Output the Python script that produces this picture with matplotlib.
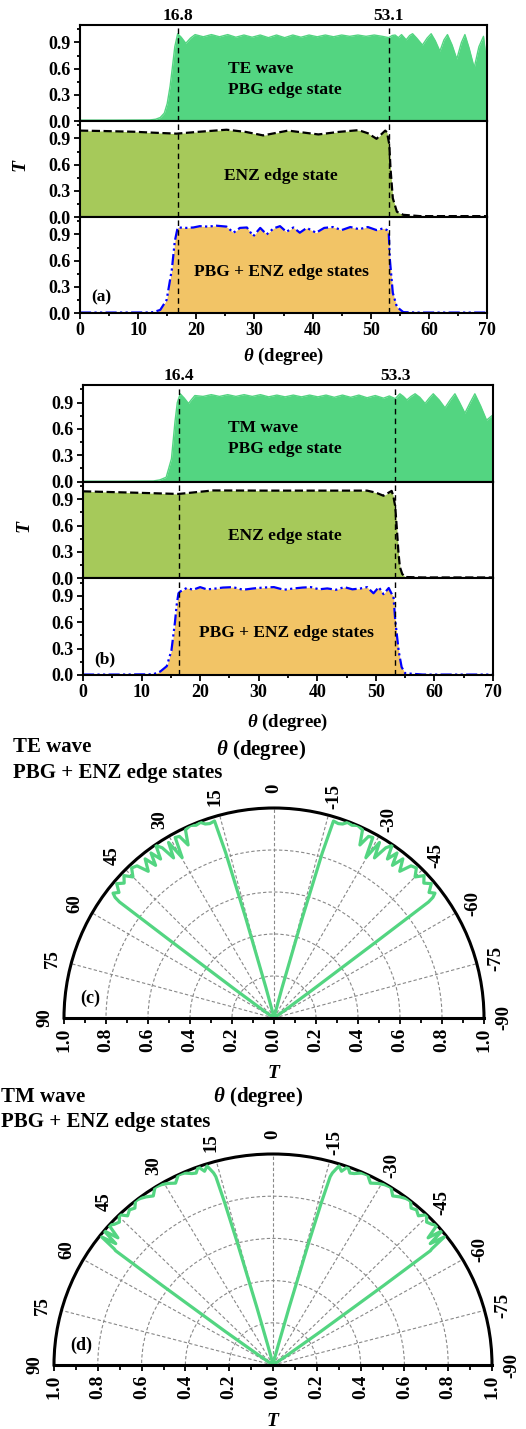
import numpy as np
import matplotlib
matplotlib.use("Agg")
import matplotlib.pyplot as plt
from matplotlib.ticker import MultipleLocator, FixedLocator, FuncFormatter
import matplotlib.transforms as mtransforms

# ---------------- data: transmittance vs incidence angle (degree) ----------------
# TE wave
te_pbg_x = [0, 6, 12, 13, 13.8, 14.5, 15.0, 15.5, 15.9, 16.3, 16.8, 17.4, 18.2, 19.0, 19.8,
            21.2, 22.6, 24.0, 25.4, 26.8, 28.2, 29.6, 31.0, 32.4, 33.8, 35.2, 36.6, 38.0, 39.4,
            40.8, 42.2, 43.6, 45.0, 46.4, 47.8, 49.2, 50.6, 52.0, 53.1, 53.7, 54.2, 54.75, 55.3,
            56.1, 56.7, 57.2, 57.9, 58.9, 59.7, 60.4, 61.1, 61.9, 62.6, 63.2, 64.0, 64.8, 65.6,
            66.2, 66.9, 67.8, 68.6, 69.4, 70.0]
te_pbg_t = [0.01, 0.01, 0.012, 0.02, 0.04, 0.09, 0.2, 0.4, 0.62, 0.85, 1.0, 0.96, 0.89, 0.95, 0.99,
            0.965, 0.99, 0.965, 0.99, 0.96, 0.985, 0.96, 0.985, 0.955, 0.985, 0.955, 0.985, 0.96, 0.985,
            0.965, 0.985, 0.965, 0.985, 0.97, 0.985, 0.97, 0.985, 0.97, 0.955, 0.98, 0.985, 0.955, 0.99,
            0.93, 0.98, 1.0, 0.95, 0.87, 0.95, 1.0, 0.92, 0.80, 0.93, 0.99, 0.87, 0.71, 0.90,
            0.99, 0.84, 0.61, 0.85, 0.97, 0.63]

te_enz_x = [0, 4, 9.2, 13, 16.6, 20.6, 25.2, 28.5, 31.5, 35.8, 41.0, 44.5, 47.9, 49.5, 51.0,
            52.5, 52.8, 53.2, 53.4, 53.8, 54.5, 55.6, 58.5, 64, 70]
te_enz_t = [0.99, 0.985, 0.977, 0.965, 0.955, 0.977, 1.0, 0.975, 0.935, 0.99, 0.946, 0.975, 0.995,
            0.96, 0.896, 0.99, 0.97, 0.83, 0.56, 0.215, 0.06, 0.025, 0.01, 0.01, 0.01]

te_all_x = [0, 6, 12, 12.6, 13.8, 14.9, 15.8, 16.3, 16.8, 18.3, 19.5, 20.6, 22.0, 23.5, 25.2,
            26.4, 27.5, 28.7, 29.8, 31.0, 32.1, 33.3, 34.4, 35.5, 36.7, 37.8, 39.0, 40.6, 42.0,
            43.5, 45.0, 46.5, 48.0, 49.5, 51.0, 52.2, 52.8, 53.1, 53.3, 53.8, 54.5, 55.6, 58, 64, 70]
te_all_t = [0.005, 0.005, 0.006, 0.01, 0.035, 0.15, 0.5, 0.82, 0.98, 0.975, 0.98, 0.995, 0.99, 1.0, 0.99,
            0.92, 0.975, 0.98, 0.88, 0.975, 0.9, 0.97, 0.995, 0.93, 0.98, 0.92, 0.975, 0.92, 0.975,
            0.985, 0.95, 0.985, 0.96, 0.985, 0.95, 0.97, 0.95, 0.92, 0.61, 0.23, 0.07, 0.01, 0.005,
            0.005, 0.005]

# TM wave
tm_pbg_x = [0, 6, 12, 13.1, 14.2, 15.1, 15.7, 16.1, 16.6, 17.3, 18.0, 18.6, 19.1,
            20.5, 21.9, 23.3, 24.7, 26.1, 27.5, 28.9, 30.3, 31.7, 33.1, 34.5, 35.9, 37.3, 38.7,
            40.1, 41.5, 42.9, 44.3, 45.7, 47.1, 48.5, 49.9, 51.3, 52.3, 53.3, 54.1, 54.7, 55.3,
            56.0, 56.7, 57.5, 58.4, 59.1, 59.8, 60.8, 61.8, 62.7, 63.5, 64.3, 65.2, 66.1, 66.9,
            67.9, 68.9, 70.0]
tm_pbg_t = [0.005, 0.005, 0.008, 0.02, 0.05, 0.26, 0.68, 0.9, 1.0, 0.95, 0.89, 0.94, 0.98,
            0.97, 0.99, 0.97, 0.99, 0.97, 0.99, 0.97, 0.99, 0.965, 0.985, 0.965, 0.985, 0.965, 0.985,
            0.965, 0.985, 0.96, 0.985, 0.96, 0.985, 0.955, 0.98, 0.95, 0.975, 0.945, 1.0, 0.97, 0.93,
            0.97, 1.0, 0.96, 0.89, 0.95, 1.0, 0.93, 0.84, 0.93, 1.0, 0.9, 0.78, 0.9, 1.0,
            0.86, 0.70, 0.76]

tm_enz_x = [0, 8.6, 16.3, 22.2, 31.4, 42.7, 48.5, 50.0, 51.3, 52.7, 53.0, 53.3, 53.6, 53.85,
            54.1, 54.5, 55.0, 58, 70]
tm_enz_t = [0.99, 0.975, 0.96, 1.0, 0.998, 0.998, 0.998, 0.975, 0.94, 0.995, 0.93, 0.82, 0.55,
            0.3, 0.13, 0.05, 0.015, 0.01, 0.01]

tm_all_x = [0, 6, 12, 13.2, 14.3, 15.1, 15.7, 16.0, 16.3, 16.6, 17.7, 18.8, 20.0, 21.1, 22.2,
            23.9, 25.6, 27.3, 29.1, 30.8, 32.6, 34.3, 36.0, 37.5, 38.9, 40.3, 41.7, 43.2, 44.6,
            46.0, 47.4, 48.5, 49.6, 50.5, 51.3, 52.2, 52.8, 53.0, 53.3, 53.9, 54.4, 55.0, 58, 64, 70]
tm_all_t = [0.005, 0.005, 0.008, 0.04, 0.1, 0.28, 0.6, 0.8, 0.93, 0.95, 0.99, 0.97, 1.0, 0.975, 0.98,
            0.995, 1.0, 0.97, 0.985, 0.995, 1.0, 0.97, 0.985, 0.995, 1.0, 0.975, 0.985, 0.97, 1.0,
            0.975, 0.985, 1.0, 0.93, 1.0, 0.92, 0.99, 0.91, 0.9, 0.63, 0.27, 0.09, 0.02, 0.005,
            0.005, 0.005]

# band-edge angles marked with dashed lines
te_edges = [16.8, 53.1]
tm_edges = [16.4, 53.3]

theta_ticks = [90, 75, 60, 45, 30, 15, 0, -15, -30, -45, -60, -75, -90]
t_ticks = [-1.0, -0.8, -0.6, -0.4, -0.2, 0.0, 0.2, 0.4, 0.6, 0.8, 1.0]

# ---------------- style ----------------
plt.rcParams["font.family"] = ["Liberation Serif", "DejaVu Serif"]
plt.rcParams["font.weight"] = "bold"
plt.rcParams["mathtext.fontset"] = "custom"
plt.rcParams["mathtext.rm"] = "Liberation Serif:bold"
plt.rcParams["mathtext.it"] = "Liberation Serif:italic:bold"
plt.rcParams["mathtext.bf"] = "Liberation Serif:bold"

GREEN = "#53D581"
OLIVE = "#A6C95A"
ORANGE = "#F2C466"
BLUE = "#0000FF"

W, H = 526, 1429
fig = plt.figure(figsize=(W / 100, H / 100), dpi=100)


def box(l, t, r, b):
    return [l / W, 1 - b / H, (r - l) / W, (b - t) / H]


def stack(left, right, top, bottom, rows, edges, tag):
    h = (bottom - top) / 3
    axes = []
    for i, (x, t, fc, lc, ls, label) in enumerate(rows):
        ax = fig.add_axes(box(left, top + i * h, right, top + (i + 1) * h))
        ax.fill_between(x, 0, t, color=fc, lw=0)
        if ls == "-":
            ax.plot(x, t, color=lc, lw=1.0)
        else:
            ax.plot(x, t, color=lc, lw=1.6, linestyle=ls)
        for e in edges:
            ax.axvline(e, color="black", lw=1.0, linestyle=(0, (4, 3)))
        ax.set_xlim(0, 70)
        ax.set_ylim(0, 1.1)
        ax.xaxis.set_major_locator(MultipleLocator(10))
        ax.xaxis.set_minor_locator(MultipleLocator(5))
        ax.yaxis.set_major_locator(FixedLocator([0.0, 0.3, 0.6, 0.9]))
        ax.yaxis.set_minor_locator(FixedLocator([0.15, 0.45, 0.75, 1.05]))
        ax.yaxis.set_major_formatter(FuncFormatter(lambda v, p: f"{v:.1f}"))
        ax.tick_params(which="both", direction="out", top=False, right=False,
                       labelsize=13, width=1.3, pad=2.5)
        ax.tick_params(which="major", length=4)
        ax.tick_params(which="minor", length=2.5)
        if i < 2:
            ax.tick_params(labelbottom=False)
        for s in ax.spines.values():
            s.set_linewidth(1.5)
        for (tx, ty, s, ha) in label:
            ax.text(tx, ty, s, ha=ha, va="center", fontsize=12.5, fontweight="bold")
        axes.append(ax)
    trans = mtransforms.blended_transform_factory(axes[0].transData, axes[0].transAxes)
    for e in edges:
        axes[0].text(e, 1.09, f"{e:.1f}", transform=trans, ha="center", va="center",
                     fontsize=12.5, fontweight="bold")
    axes[2].text(2.0, 0.18, tag, ha="left", va="center", fontsize=12.5, fontweight="bold")
    return axes


stack(80, 487, 25, 313,
      [(te_pbg_x, te_pbg_t, GREEN, GREEN, "-",
        [(25.5, 0.60, "TE wave", "left"), (25.5, 0.35, "PBG edge state", "left")]),
       (te_enz_x, te_enz_t, OLIVE, "black", "--",
        [(34.6, 0.47, "ENZ edge state", "center")]),
       (te_all_x, te_all_t, ORANGE, BLUE, (0, (5, 1.5, 1, 1.5, 1, 1.5)),
        [(34.6, 0.47, "PBG + ENZ edge states", "center")])],
      te_edges, "(a)")
fig.text(283.5 / W, 1 - 356 / H, r"$\theta$ (degree)", ha="center", va="center", fontsize=13.5)
fig.text(22 / W, 1 - 166 / H, r"$T$", ha="center", va="center", fontsize=14, rotation=90)

stack(83, 493, 385, 675,
      [(tm_pbg_x, tm_pbg_t, GREEN, GREEN, "-",
        [(24.8, 0.61, "TM wave", "left"), (24.8, 0.37, "PBG edge state", "left")]),
       (tm_enz_x, tm_enz_t, OLIVE, "black", "--",
        [(34.4, 0.48, "ENZ edge state", "center")]),
       (tm_all_x, tm_all_t, ORANGE, BLUE, (0, (5, 1.5, 1, 1.5, 1, 1.5)),
        [(34.7, 0.48, "PBG + ENZ edge states", "center")])],
      tm_edges, "(b)")
fig.text(288 / W, 1 - 722 / H, r"$\theta$ (degree)", ha="center", va="center", fontsize=13.5)
fig.text(25 / W, 1 - 527 / H, r"$T$", ha="center", va="center", fontsize=14, rotation=90)


def polar(cx, cy, rx, ry, x, t, tag, tagxy):
    ax = fig.add_axes(box(cx - rx, cy - 1.5 * ry, cx + rx, cy + 0.5 * ry), projection="polar")
    ax.set_aspect("auto")
    ax.set_theta_zero_location("N")
    ax.set_theta_direction(1)
    ax.set_thetamin(-90)
    ax.set_thetamax(90)
    ax.set_rlim(0, 1)
    th = np.deg2rad(np.asarray(x, dtype=float))
    ax.plot(th, t, color=GREEN, lw=2.3, zorder=5)
    ax.plot(-th, t, color=GREEN, lw=2.3, zorder=5)
    ax.set_thetagrids(theta_ticks, labels=[str(a) for a in theta_ticks])
    ax.xaxis.set_minor_locator(FixedLocator(np.deg2rad(np.arange(-82.5, 90, 15))))
    ax.set_rticks([0.2, 0.4, 0.6, 0.8, 1.0])
    ax.set_yticklabels([])
    ax.tick_params(axis="y", length=0)
    ax.tick_params(axis="x", which="major", direction="in", length=6, width=1.5,
                   labelsize=13.5, labelrotation=90, pad=7)
    ax.tick_params(axis="x", which="minor", direction="in", length=3.5, width=1.2)
    ax.grid(True, linestyle=(0, (3, 2)), color="#888888", lw=0.8)
    ax.spines["polar"].set_linewidth(2.2)
    ax.spines["start"].set_visible(False)
    ax.spines["end"].set_visible(False)

    # T scale along the diameter
    bx = fig.add_axes([(cx - rx) / W, 1 - cy / H, 2 * rx / W, 0.0005])
    bx.patch.set_alpha(0)
    for s in ("top", "left", "right"):
        bx.spines[s].set_visible(False)
    bx.spines["bottom"].set_linewidth(2.2)
    bx.set_xlim(-1, 1)
    bx.set_yticks([])
    bx.xaxis.set_major_locator(FixedLocator(t_ticks))
    bx.xaxis.set_minor_locator(MultipleLocator(0.1))
    bx.xaxis.set_major_formatter(FuncFormatter(lambda v, p: f"{abs(v):.1f}"))
    bx.tick_params(axis="x", which="both", direction="out", width=1.3, labelsize=14,
                   labelrotation=90)
    bx.tick_params(axis="x", which="major", length=4, pad=3)
    bx.tick_params(axis="x", which="minor", length=3.5)
    fig.text(cx / W, 1 - (cy + 56) / H, r"$T$", ha="center", va="center", fontsize=14)
    fig.text(tagxy[0] / W, 1 - tagxy[1] / H, tag, ha="center", va="center", fontsize=13)
    return ax


polar(274, 1018, 210, 210, te_all_x, te_all_t, "(c)", (90, 998))
fig.text(13 / W, 1 - 747 / H, "TE wave", ha="left", va="center", fontsize=15)
fig.text(13 / W, 1 - 773 / H, "PBG + ENZ edge states", ha="left", va="center", fontsize=15)
fig.text(261 / W, 1 - 750 / H, r"$\theta$ (degree)", ha="center", va="center", fontsize=15)

polar(273, 1365, 219, 211, tm_all_x, tm_all_t, "(d)", (81, 1345))
fig.text(1 / W, 1 - 1097 / H, "TM wave", ha="left", va="center", fontsize=15)
fig.text(1 / W, 1 - 1122 / H, "PBG + ENZ edge states", ha="left", va="center", fontsize=15)
fig.text(258 / W, 1 - 1097 / H, r"$\theta$ (degree)", ha="center", va="center", fontsize=15)

fig.savefig("out.png", dpi=100)
